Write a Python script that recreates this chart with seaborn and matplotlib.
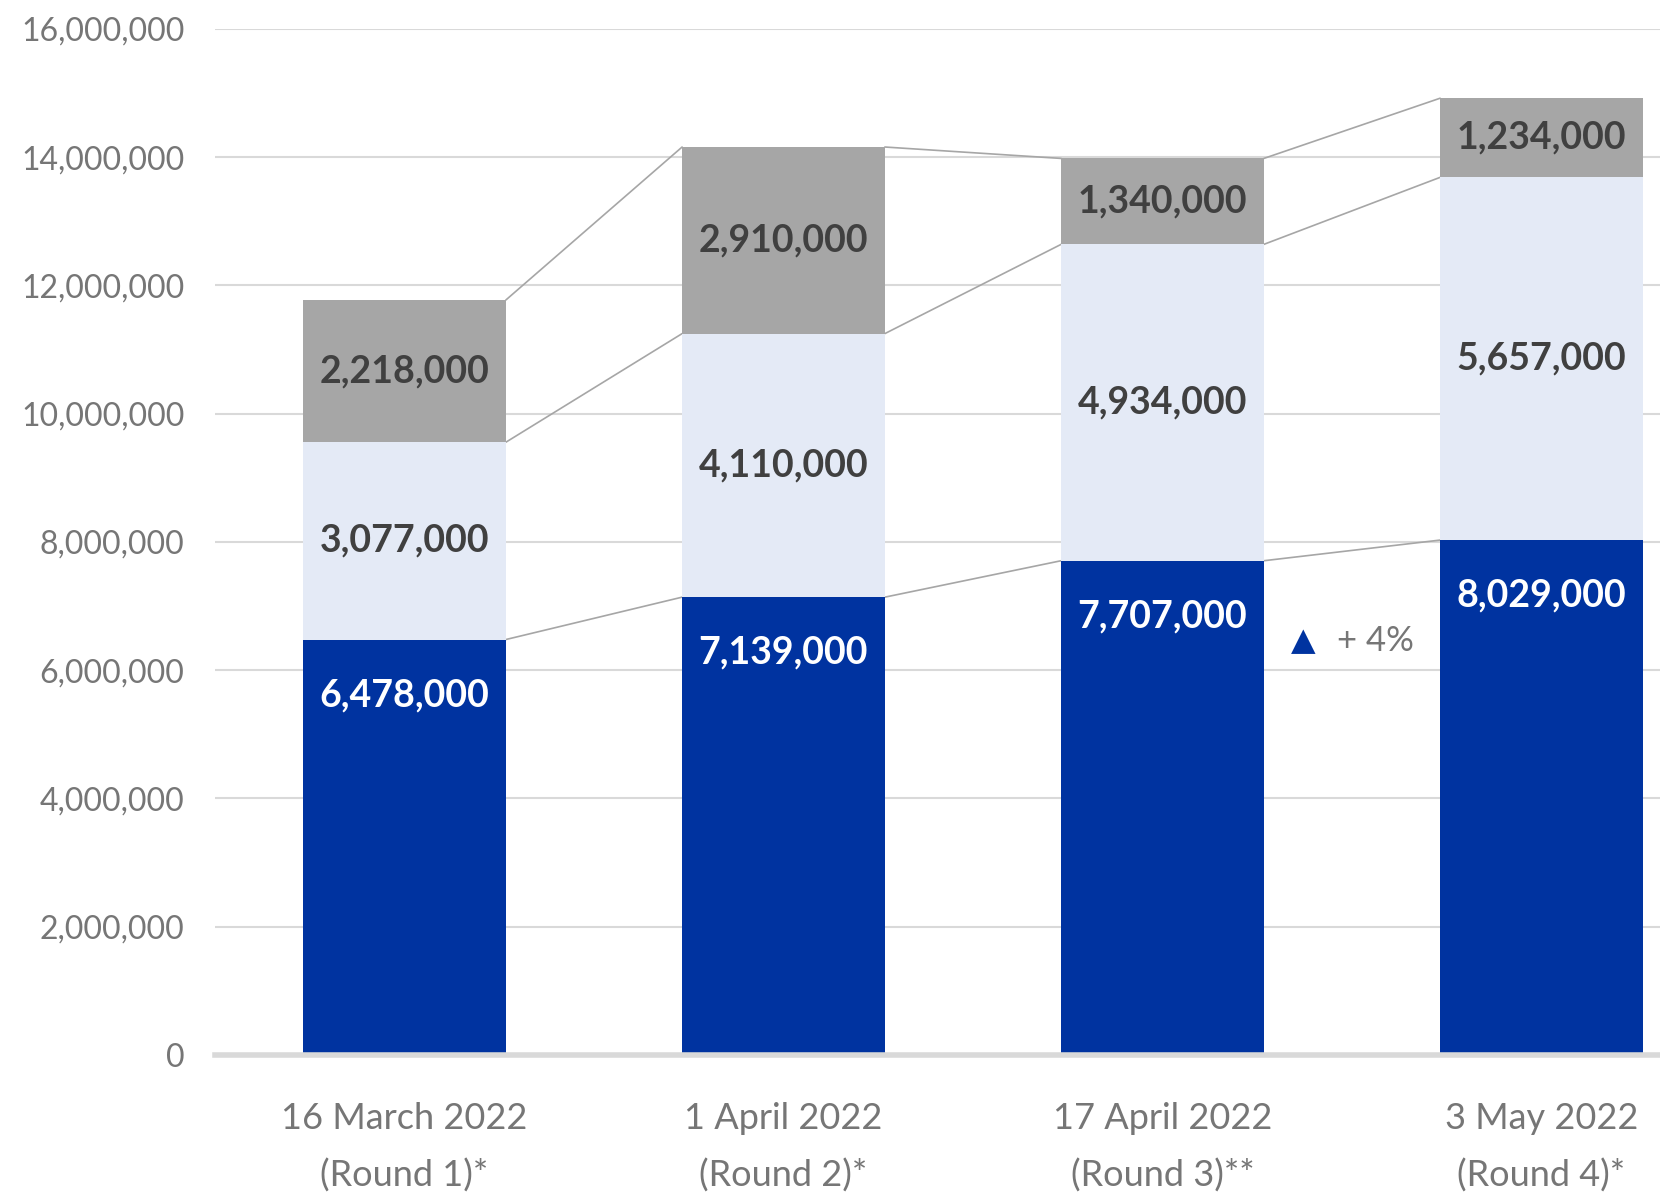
import matplotlib
matplotlib.use("Agg")
import matplotlib.pyplot as plt
import seaborn as sns
import pandas as pd
import numpy as np

categories = ["16 March 2022\n(Round 1)*", "1 April 2022\n(Round 2)*",
              "17 April 2022\n(Round 3)**", "3 May 2022\n(Round 4)*"]
blue_vals = [6478000, 7139000, 7707000, 8029000]
light_vals = [3077000, 4110000, 4934000, 5657000]
gray_vals = [2218000, 2910000, 1340000, 1234000]
yticks = list(range(0, 16000001, 2000000))

BLUE = "#0033A0"
LIGHT = "#E4EAF6"
GRAY = "#A6A6A6"
TXT = "#404040"
TICK = "#767676"

sns.set_theme(style="white")
plt.rcParams['font.family'] = ['Lato', 'DejaVu Sans']

df = pd.DataFrame({"cat": categories, "blue": blue_vals,
                   "light": light_vals, "gray": gray_vals})
df["c1"] = df["blue"]
df["c2"] = df["blue"] + df["light"]
df["c3"] = df["c2"] + df["gray"]

fig = plt.figure(figsize=(16.6, 11.92), dpi=100)
ax = fig.add_axes([0.1295, 0.115, 0.8705, 0.8607])

W = 0.535
for col, color in [("c3", GRAY), ("c2", LIGHT), ("c1", BLUE)]:
    sns.barplot(data=df, x="cat", y=col, color=color, width=W,
                saturation=1, ax=ax, zorder=3, linewidth=0)

# connector lines
n = len(categories)
for col in ["c1", "c2", "c3"]:
    vals = df[col].values
    for i in range(n - 1):
        ax.plot([i + W / 2, i + 1 - W / 2], [vals[i], vals[i + 1]],
                color="#A6A6A6", lw=1.2, zorder=2)

# labels
LFS = 27
for i in range(n):
    ax.annotate(f"{blue_vals[i]:,}", (i, df["c1"][i]), xytext=(0, -40),
                textcoords="offset points", ha="center", va="center",
                color="white", fontsize=LFS, fontweight="bold", zorder=5)
    ax.text(i, df["c1"][i] + light_vals[i] / 2, f"{light_vals[i]:,}",
            ha="center", va="center", color=TXT, fontsize=LFS,
            fontweight="bold", zorder=5)
    ax.text(i, df["c2"][i] + gray_vals[i] / 2, f"{gray_vals[i]:,}",
            ha="center", va="center", color=TXT, fontsize=LFS,
            fontweight="bold", zorder=5)

# growth annotation
ax.text(2.37, 6.45e6, "▲", color=BLUE, fontsize=23, ha="center",
        va="center", family=['DejaVu Sans'], zorder=5)
ax.text(2.46, 6.45e6, "+ 4%", color=TICK, fontsize=25, ha="left",
        va="center", zorder=5)

ax.set_xlim(-0.5, (1660 - 215) / 379 - 0.5)
ax.set_ylim(0, 16000000)
ax.set_yticks(yticks)
ax.set_yticklabels([f"{v:,}" for v in yticks], color=TICK, fontsize=23)
ax.tick_params(axis="y", length=0, pad=22)
ax.tick_params(axis="x", length=0, pad=34)
for lab in ax.get_xticklabels():
    lab.set_color(TICK)
    lab.set_fontsize(26)
    lab.set_linespacing(1.85)
ax.set_xlabel("")
ax.set_ylabel("")
ax.grid(axis="y", color="#D9D9D9", lw=1.5, zorder=0)
ax.set_axisbelow(True)
for s in ["top", "right", "left"]:
    ax.spines[s].set_visible(False)
ax.spines["bottom"].set_color("#D9D9D9")
ax.spines["bottom"].set_linewidth(4)
ax.spines["bottom"].set_zorder(4)

fig.savefig("out.png", dpi=100, facecolor="white")
